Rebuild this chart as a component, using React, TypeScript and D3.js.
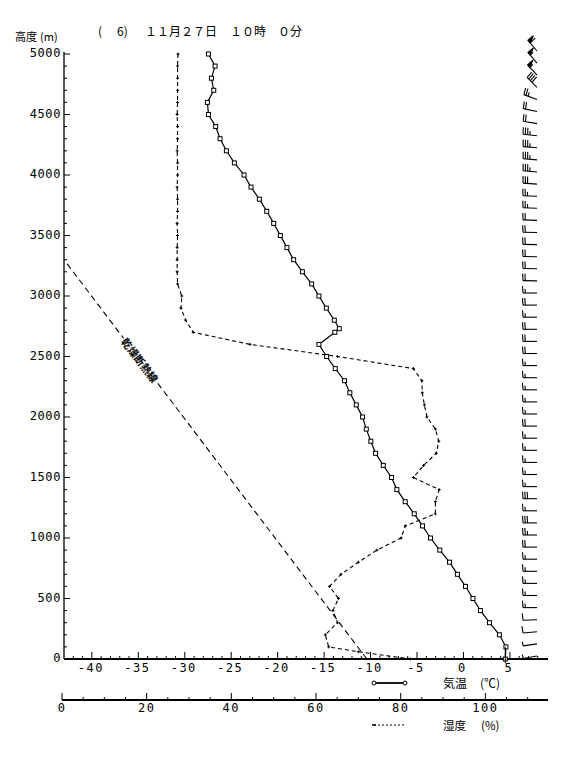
import React from 'react';
import * as d3 from 'd3';

const W = 567;
const H = 757;

// Temperature profile (height m, °C)
const tempHeights = [5000, 4900, 4800, 4700, 4600, 4500, 4400, 4300, 4200, 4100, 4000, 3900, 3800, 3700, 3600, 3500, 3400, 3300, 3200, 3100, 3000, 2900, 2800, 2730, 2700, 2600, 2500, 2400, 2300, 2200, 2100, 2000, 1900, 1800, 1700, 1600, 1500, 1400, 1300, 1200, 1100, 1000, 900, 800, 700, 600, 500, 400, 300, 200, 100, 0];
const tempValues = [-27.45, -26.74, -27.13, -26.88, -27.56, -27.45, -26.67, -26.2, -25.52, -24.66, -23.62, -22.87, -21.97, -21.18, -20.43, -19.71, -19.0, -18.28, -17.34, -16.34, -15.56, -14.76, -13.9, -13.37, -13.84, -15.56, -14.73, -13.8, -12.8, -12.23, -11.54, -10.86, -10.46, -9.97, -9.46, -8.63, -7.74, -7.17, -6.27, -5.3, -4.41, -3.55, -2.55, -1.5, -0.65, 0.22, 1.02, 1.83, 2.8, 3.87, 4.57, 4.5];

// Humidity profile (height m, %)
const humHeights = [5000, 4900, 4800, 4700, 4600, 4500, 4400, 4300, 4200, 4100, 4000, 3900, 3800, 3700, 3600, 3500, 3400, 3300, 3200, 3100, 3000, 2900, 2800, 2700, 2600, 2500, 2400, 2300, 2200, 2100, 2000, 1900, 1800, 1700, 1600, 1500, 1400, 1300, 1200, 1100, 1000, 900, 800, 700, 600, 500, 400, 300, 200, 100, 60, 0];
const humValues = [27.4, 27.3, 27.3, 27.3, 27.3, 27.2, 27.3, 27.3, 27.2, 27.3, 27.3, 27.2, 27.3, 27.3, 27.2, 27.3, 27.2, 27.2, 27.2, 27.3, 28.3, 28.1, 29.2, 31.0, 44.4, 65.1, 83.0, 85.0, 85.1, 85.6, 86.2, 88.2, 89.0, 88.4, 85.4, 83.0, 89.1, 88.2, 88.2, 81.1, 80.1, 74.4, 70.0, 65.9, 63.2, 65.3, 64.0, 65.1, 62.2, 63.0, 70.0, 82.3];

// Dry adiabatic line
const dryHeights = [0, 3300];
const dryTemps = [-10.4, -43.0];

// Wind barbs (per 100 m)
const windHeights = [5000, 4900, 4800, 4700, 4600, 4500, 4400, 4300, 4200, 4100, 4000, 3900, 3800, 3700, 3600, 3500, 3400, 3300, 3200, 3100, 3000, 2900, 2800, 2700, 2600, 2500, 2400, 2300, 2200, 2100, 2000, 1900, 1800, 1700, 1600, 1500, 1400, 1300, 1200, 1100, 1000, 900, 800, 700, 600, 500, 400, 300, 200, 100, 0];
const windDirs = [320, 320, 318, 315, 290, 282, 280, 276, 275, 275, 275, 274, 272, 272, 272, 271, 271, 271, 271, 271, 270, 270, 270, 270, 270, 270, 270, 270, 270, 270, 270, 270, 270, 270, 270, 270, 270, 270, 270, 270, 270, 270, 270, 270, 270, 270, 270, 268, 265, 262, 260];
const windSpeeds = [60, 55, 55, 40, 25, 20, 20, 35, 35, 35, 35, 30, 25, 25, 20, 20, 20, 20, 20, 20, 15, 20, 15, 20, 20, 20, 15, 15, 15, 15, 15, 20, 15, 15, 15, 15, 15, 30, 15, 30, 25, 20, 15, 15, 15, 15, 15, 10, 10, 5, 5];

const tempTicks = [-40, -35, -30, -25, -20, -15, -10, -5, 0, 5];
const humTicks = [0, 20, 40, 60, 80, 100];
const heightTicks = [0, 500, 1000, 1500, 2000, 2500, 3000, 3500, 4000, 4500, 5000];

const NUM_FONT = '"DejaVu Sans Mono", monospace';
const JP_FONT = '"Noto Sans CJK JP", "Noto Sans", sans-serif';

function Barb({ x, y, dir, spd }: { x: number; y: number; dir: number; spd: number }) {
  const L = 14;
  let rem = Math.round(spd / 5) * 5;
  const elems: any[] = [];
  let pos = -L;
  let k = 0;
  while (rem >= 50) {
    elems.push(<path key={k++} d={`M${pos},0 L${pos},-7 L${pos + 3.5},0 Z`} fill="#000" />);
    pos += 3.5;
    rem -= 50;
  }
  while (rem >= 10) {
    elems.push(<line key={k++} x1={pos} y1={0} x2={pos - 0.5} y2={-7} />);
    pos += 2.3;
    rem -= 10;
  }
  if (rem >= 5) {
    elems.push(<line key={k++} x1={pos} y1={0} x2={pos - 0.3} y2={-4} />);
  }
  return (
    <g transform={`translate(${x},${y}) rotate(${dir - 270})`} stroke="#000" strokeWidth={1.1}>
      <line x1={0} y1={0} x2={-L} y2={0} />
      {elems}
    </g>
  );
}

export default function App() {
  const y = d3.scaleLinear().domain([0, 5000]).range([659, 54]);
  const xT = d3.scaleLinear().domain([-43, 9.1]).range([64, 548]);
  const xH = d3.scaleLinear().domain([0, 114.8]).range([62, 548]);
  const axisX = 64;
  const tAxisY = y(0);
  const hAxisY = 700;

  const tempLine = d3.line<number>().x((_, i) => xT(tempValues[i])).y((h) => y(h));
  const humLine = d3.line<number>().x((_, i) => xH(humValues[i])).y((h) => y(h));
  const dryLine = d3.line<number>().x((_, i) => xT(dryTemps[i])).y((h) => y(h));

  const minorT = d3.range(-42, 9, 1);
  const minorH = d3.range(0, 115, 5);
  const minorY = d3.range(0, 5001, 100);

  // dry adiabat label placement
  const p0 = [xT(dryTemps[0]), y(dryHeights[0])];
  const p1 = [xT(dryTemps[1]), y(dryHeights[1])];
  const ang = (Math.atan2(p0[1] - p1[1], p0[0] - p1[0]) * 180) / Math.PI;
  const lblY = 360;
  const lblX = p1[0] + ((lblY - p1[1]) / (p0[1] - p1[1])) * (p0[0] - p1[0]);

  return (
    <svg width={W} height={H} style={{ position: 'absolute', left: 0, top: 0, background: '#fff' }}>
      <rect x={0} y={0} width={W} height={H} fill="#fff" />
      {/* Title */}
      <g fontFamily={JP_FONT} fontSize={12} fill="#000">
        <text x={98} y={36}>(</text>
        <text x={117} y={36}>6)</text>
        <text x={145} y={36}>１１月２７日</text>
        <text x={230} y={36}>１０時</text>
        <text x={278} y={36}>０分</text>
        <text x={15} y={41} fontSize={11}>高度</text>
        <text x={40} y={41} fontSize={11}>(m)</text>
      </g>

      {/* Y axis */}
      <line x1={axisX} y1={y(5000) - 2} x2={axisX} y2={tAxisY} stroke="#000" strokeWidth={1.3} />
      {minorY.map((h) => (
        <line key={'my' + h} x1={axisX} x2={axisX + (h % 500 === 0 ? 6 : 3)} y1={y(h)} y2={y(h)} stroke="#000" strokeWidth={1} />
      ))}
      {heightTicks.map((h) => (
        <text key={'yl' + h} x={61} y={y(h) + 3} textAnchor="end" fontFamily={NUM_FONT} fontSize={12} letterSpacing={0.6}>
          {h}
        </text>
      ))}

      {/* Temperature axis */}
      <line x1={axisX} x2={548} y1={tAxisY} y2={tAxisY} stroke="#000" strokeWidth={1.8} />
      {minorT.map((t) => (
        <line key={'mt' + t} x1={xT(t)} x2={xT(t)} y1={tAxisY} y2={tAxisY - (t % 5 === 0 ? 7 : 3)} stroke="#000" strokeWidth={1} />
      ))}
      {tempTicks.map((t) => (
        <text key={'tl' + t} x={xT(t) - 1} y={672} textAnchor="middle" fontFamily={NUM_FONT} fontSize={12} letterSpacing={1.5}>
          {t < 0 ? '-' + Math.abs(t) : String(t)}
        </text>
      ))}

      {/* Humidity axis */}
      <line x1={xH(0)} x2={548} y1={hAxisY} y2={hAxisY} stroke="#000" strokeWidth={1.8} />
      {minorH.map((v) => (
        <line key={'mh' + v} x1={xH(v)} x2={xH(v)} y1={hAxisY} y2={hAxisY - (v % 20 === 0 ? 7 : 3)} stroke="#000" strokeWidth={1} />
      ))}
      {humTicks.map((v) => (
        <text key={'hl' + v} x={xH(v)} y={712} textAnchor="middle" fontFamily={NUM_FONT} fontSize={12} letterSpacing={1.5}>
          {v}
        </text>
      ))}

      {/* Legend */}
      <line x1={374} x2={405} y1={683} y2={683} stroke="#000" strokeWidth={1.8} />
      <circle cx={374} cy={683} r={2} fill="#fff" stroke="#000" />
      <circle cx={405} cy={683} r={2} fill="#fff" stroke="#000" />
      <text x={443} y={688} fontFamily={JP_FONT} fontSize={12}>気温</text>
      <text x={480} y={688} fontFamily={JP_FONT} fontSize={12}>(℃)</text>
      <line x1={374} x2={405} y1={725} y2={725} stroke="#000" strokeWidth={1.2} strokeDasharray="2,2" />
      <line x1={372} x2={376} y1={725} y2={725} stroke="#000" strokeWidth={1.5} />
      <text x={443} y={730} fontFamily={JP_FONT} fontSize={11.5}>湿度</text>
      <text x={481} y={730} fontFamily={JP_FONT} fontSize={11.5}>(%)</text>

      {/* Dry adiabat */}
      <path d={dryLine(dryHeights) || ''} fill="none" stroke="#000" strokeWidth={1.1} strokeDasharray="6,4" />
      <text
        x={lblX}
        y={lblY}
        transform={`rotate(${ang}, ${lblX}, ${lblY})`}
        textAnchor="middle"
        dominantBaseline="central"
        fontFamily={JP_FONT}
        fontSize={10.5}
        fontWeight="bold"
        stroke="#fff"
        strokeWidth={3}
        paintOrder="stroke"
        fill="#000"
      >
        乾燥断熱線
      </text>

      {/* Humidity profile */}
      <path d={humLine(humHeights) || ''} fill="none" stroke="#000" strokeWidth={1.1} strokeDasharray="4,3" />
      {humHeights.map((h, i) => (
        <g key={'hm' + i} stroke="#000" strokeWidth={1}>
          <line x1={xH(humValues[i]) - 1.5} x2={xH(humValues[i]) + 1.5} y1={y(h)} y2={y(h)} />
          <line x1={xH(humValues[i])} x2={xH(humValues[i])} y1={y(h) - 1.5} y2={y(h) + 1.5} />
        </g>
      ))}

      {/* Temperature profile */}
      <path d={tempLine(tempHeights) || ''} fill="none" stroke="#000" strokeWidth={1.2} />
      {tempHeights.map((h, i) => (
        <rect key={'tm' + i} x={xT(tempValues[i]) - 2} y={y(h) - 2} width={4} height={4} fill="#fff" stroke="#000" strokeWidth={1} />
      ))}
      <line x1={xT(tempValues[tempValues.length - 1])} x2={xT(tempValues[tempValues.length - 1])} y1={y(100)} y2={tAxisY + 4} stroke="#000" strokeWidth={1} />

      {/* Wind barbs */}
      {windHeights.map((h, i) => (
        <Barb key={'wb' + i} x={537} y={y(h) - 3} dir={windDirs[i]} spd={windSpeeds[i]} />
      ))}
    </svg>
  );
}
